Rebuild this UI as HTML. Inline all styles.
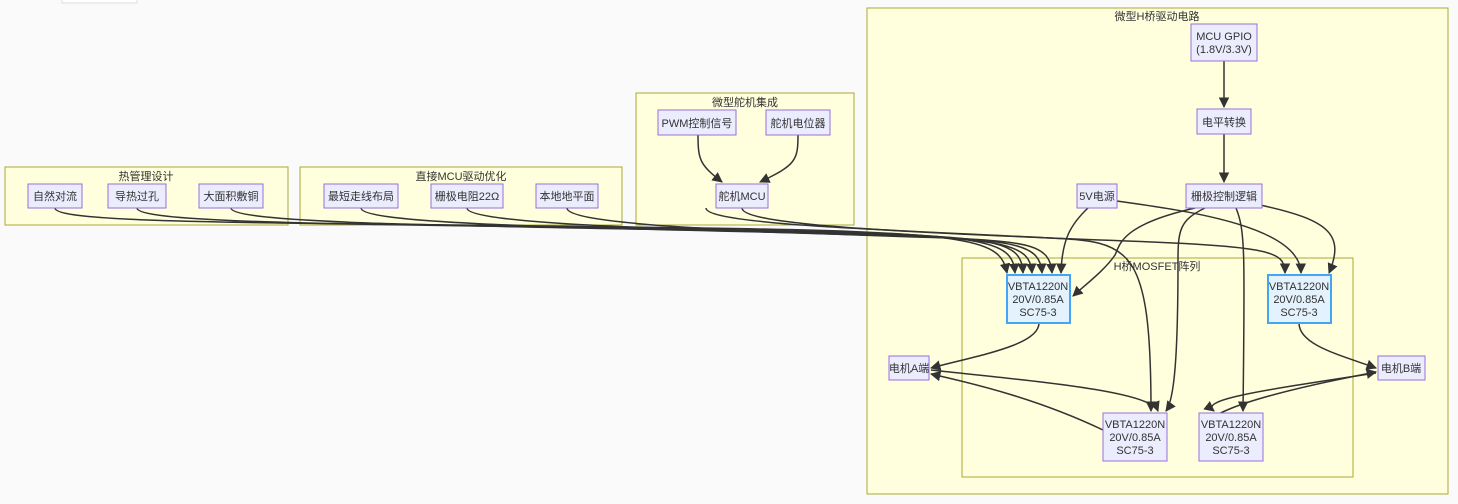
<!DOCTYPE html>
<html><head><meta charset="utf-8"><style>
body{margin:0;background:#fafafa;}
svg{display:block;font-family:"Liberation Sans","Noto Sans CJK SC",sans-serif;}
.c{fill:#ffffde;stroke:#aaaa33;stroke-width:1}
.n{fill:#ECECFF;stroke:#9370DB;stroke-width:1}
.b{fill:#E3F2FD;stroke:#42A5F5;stroke-width:2}
.e{fill:none;stroke:#333;stroke-width:1.5}
text{font-size:11px;fill:#333;text-anchor:middle}
</style></head><body>
<svg width="1458" height="504" viewBox="0 0 1458 504">
<defs><marker id="a" viewBox="0 0 10 10" refX="9" refY="5" markerWidth="7" markerHeight="7" orient="auto"><path d="M0,0L10,5L0,10z" fill="#333"/></marker></defs>
<rect x="62" y="-2" width="75" height="5" fill="#fff" stroke="#ddd"/>
<rect class="c" x="5" y="167" width="283" height="58"/>
<text x="146" y="180">热管理设计</text>
<rect class="c" x="300" y="167" width="322" height="58"/>
<text x="461" y="180">直接MCU驱动优化</text>
<rect class="c" x="636" y="93" width="218" height="132"/>
<text x="745" y="106">微型舵机集成</text>
<rect class="c" x="867" y="8" width="581" height="486"/>
<text x="1157" y="20">微型H桥驱动电路</text>
<rect class="c" x="962" y="258" width="391" height="219"/>
<text x="1157" y="270">H桥MOSFET阵列</text>

<g class="e" marker-end="url(#a)">
<path d="M55,208 C55,225 300,222 700,228 C980,232 1000,240 1007,273"/>
<path d="M137,208 C137,225 400,224 750,230 C990,234 1012,240 1015,273"/>
<path d="M231,208 C231,225 500,226 800,232 C1000,236 1021,240 1023,273"/>
<path d="M361,208 C361,225 600,228 850,234 C1010,238 1030,245 1032,273"/>
<path d="M467,208 C467,225 700,230 900,236 C1020,240 1040,245 1042,273"/>
<path d="M567,208 C567,225 750,232 950,238 C1030,242 1050,245 1052,273"/>
<path d="M1088,208 C1070,225 1062,240 1061,273"/>
<path d="M1195,208 C1120,225 1120,245 1115,255 C1105,270 1085,285 1073,296"/>
<path d="M742,208 C742,225 900,232 1100,240 C1270,246 1285,250 1285,273"/>
<path d="M706,208 C706,225 900,230 1050,238 C1130,242 1151,245 1151,411"/>
<path d="M1117,201 C1180,210 1300,225 1301,273"/>
<path d="M1260,205 C1330,220 1345,235 1329,273"/>
<path d="M1205,208 C1180,220 1178,230 1178,260 C1178,360 1174,400 1166,411"/>
<path d="M1236,208 C1245,230 1245,250 1243,411"/>
<path d="M1224,61 L1224,107"/>
<path d="M1224,134 L1224,182"/>
<path d="M698,135 C698,160 700,165 722,182"/>
<path d="M798,135 C798,160 796,165 760,182"/>
<path d="M1039,323 C1039,345 980,355 931,368"/>
<path d="M1299,323 C1299,345 1340,355 1376,368"/>
<path d="M1103,430 C1040,400 980,385 931,374"/>
<path d="M931,370 C1020,380 1150,390 1158,411"/>
<path d="M1205,438 C1190,420 1230,400 1376,372"/>
<path d="M1376,373 C1250,392 1200,400 1214,411"/>
</g>

<rect class="n" x="28" y="184" width="54" height="24"/><text x="55" y="200">自然对流</text>
<rect class="n" x="108" y="184" width="58" height="24"/><text x="137" y="200">导热过孔</text>
<rect class="n" x="199" y="184" width="64" height="24"/><text x="231" y="200">大面积敷铜</text>
<rect class="n" x="324" y="184" width="74" height="24"/><text x="361" y="200">最短走线布局</text>
<rect class="n" x="431" y="184" width="72" height="24"/><text x="467" y="200">栅极电阻22Ω</text>
<rect class="n" x="536" y="184" width="62" height="24"/><text x="567" y="200">本地地平面</text>
<rect class="n" x="658" y="110" width="78" height="25"/><text x="697" y="127">PWM控制信号</text>
<rect class="n" x="766" y="110" width="64" height="25"/><text x="798" y="127">舵机电位器</text>
<rect class="n" x="716" y="184" width="52" height="24"/><text x="742" y="200">舵机MCU</text>
<rect class="n" x="1191" y="24" width="66" height="37"/><text x="1224" y="40">MCU GPIO</text><text x="1224" y="53">(1.8V/3.3V)</text>
<rect class="n" x="1197" y="109" width="54" height="25"/><text x="1224" y="126">电平转换</text>
<rect class="n" x="1077" y="184" width="40" height="24"/><text x="1097" y="200">5V电源</text>
<rect class="n" x="1186" y="184" width="76" height="24"/><text x="1224" y="200">栅极控制逻辑</text>
<rect class="b" x="1007" y="275" width="63" height="48"/><text x="1038" y="290">VBTA1220N</text><text x="1038" y="303">20V/0.85A</text><text x="1038" y="316">SC75-3</text>
<rect class="b" x="1268" y="275" width="63" height="48"/><text x="1299" y="290">VBTA1220N</text><text x="1299" y="303">20V/0.85A</text><text x="1299" y="316">SC75-3</text>
<rect class="n" x="889" y="356" width="40" height="24"/><text x="909" y="372">电机A端</text>
<rect class="n" x="1378" y="356" width="47" height="24"/><text x="1401" y="372">电机B端</text>
<rect class="n" x="1103" y="413" width="64" height="48"/><text x="1135" y="428">VBTA1220N</text><text x="1135" y="441">20V/0.85A</text><text x="1135" y="454">SC75-3</text>
<rect class="n" x="1199" y="413" width="64" height="48"/><text x="1231" y="428">VBTA1220N</text><text x="1231" y="441">20V/0.85A</text><text x="1231" y="454">SC75-3</text>
</svg>
</body></html>
